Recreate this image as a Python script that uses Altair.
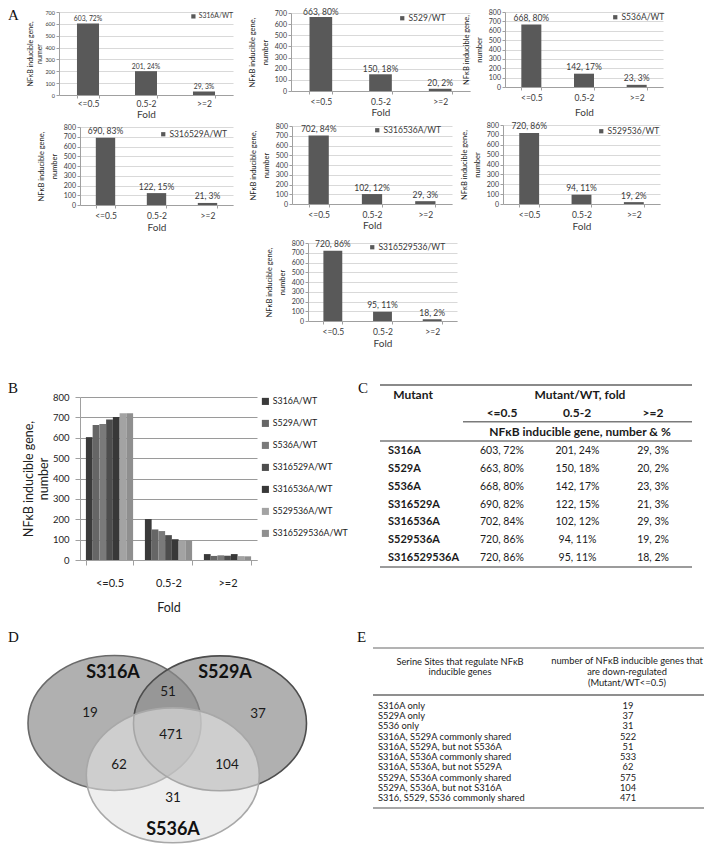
import altair as alt
import pandas as pd

# ------------------------------------------------------------------ data
FOLDS = ["<=0.5", "0.5-2", ">=2"]
MUTANTS = ["S316A", "S529A", "S536A", "S316529A", "S316536A", "S529536A", "S316529536A"]
N_LE05 = [603, 663, 668, 690, 702, 720, 720]
N_MID = [201, 150, 142, 122, 102, 94, 95]
N_GE2 = [29, 20, 23, 21, 29, 19, 18]
P_LE05 = [72, 80, 80, 82, 84, 86, 86]
P_MID = [24, 18, 17, 15, 12, 11, 11]
P_GE2 = [3, 2, 3, 3, 3, 2, 2]
P_LE05_A = [72, 80, 80, 83, 84, 86, 86]          # as printed in panel A
A_SERIES = ["S316A/WT", "S529/WT", "S536A/WT", "S316529A/WT",
            "S316536A/WT", "S529536/WT", "S316529536/WT"]
A_YMAX = [700, 700, 800, 800, 800, 800, 800]
A_YTITLE2 = ["numer", "number", "number", "number", "number", "number", "number"]
B_SERIES = ["S316A/WT", "S529A/WT", "S536A/WT", "S316529A/WT",
            "S316536A/WT", "S529536A/WT", "S316529536A/WT"]
VENN_SETS = ["S316A", "S529A", "S536A"]
VENN_REGIONS = ["S316A only", "S529A only", "S536A only", "S316A+S529A",
                "S316A+S536A", "S529A+S536A", "all three"]
VENN_COUNTS = [19, 37, 31, 51, 62, 104, 471]
E_SITES = ["S316A only", "S529A only", "S536 only",
           "S316A, S529A commonly shared", "S316A, S529A, but not S536A",
           "S316A, S536A commonly shared", "S316A, S536A, but not S529A",
           "S529A, S536A commonly shared", "S529A, S536A, but not S316A",
           "S316, S529, S536 commonly shared"]
E_COUNTS = [19, 37, 31, 522, 51, 533, 62, 575, 104, 471]

# ------------------------------------------------------------------ layout / style
W, H = 697, 839
def px(v): return v - 8
def py(v): return v - 8

FONT = "Lato"
SERIF = "Liberation Serif"
TXT = "#3a3a3a"
DARK = "#1a1a1a"
AX_GRAY = "#a0a0a0"
A_BAR = "#595959"
B_COLORS = ["#3a3a3a", "#666666", "#7a7a7a", "#4d4d4d", "#383838", "#a3a3a3", "#8f8f8f"]

A_BOX = [(59, 233, 12, 95), (291, 470, 13, 91), (505, 663, 12, 87),
         (80, 233, 127, 205), (292, 452, 126, 204), (503, 660, 125, 204),
         (308, 457, 243, 321)]
A_LEGEND = [(190, 13), (398, 14), (611, 13), (159, 130), (373, 126), (597, 127), (368, 243)]
A_XTITLE_PAD = [1, 1.5, 5.5, 2.8, 2.2, 3.2, 2.4]
A_LABEL_DY = [-1.5, -0.5, -1.5, -1.5, -1.5, -1.5, -1.5]

B_BOX = (80, 257, 397, 560)

ELLIPSE = "M -1 0 A 1 0.78 0 1 1 1 0 A 1 0.78 0 1 1 -1 0 Z"
VENN_SIZE = 173 ** 2
VENN_CENTER = {"S316A": (114.5, 723), "S529A": (220, 723.3), "S536A": (172.8, 775.3)}
VENN_STYLE = {
    "S316A": dict(fill="#8a8a8a", fillOpacity=0.68, stroke="#6a6a6a"),
    "S529A": dict(fill="#8a8a8a", fillOpacity=0.68, stroke="#4d4d4d"),
    "S536A": dict(fill="#e2e2e2", fillOpacity=0.6, stroke="#a8a8a8"),
}
VENN_SET_POS = {"S316A": (113, 673), "S529A": (225, 673), "S536A": (173, 830)}
VENN_REGION_POS = {"S316A only": (90, 713), "S529A only": (258, 714), "S536A only": (173, 798),
                   "S316A+S529A": (168, 692), "S316A+S536A": (119, 765),
                   "S529A+S536A": (227, 765), "all three": (171, 735)}

PANEL_LABELS = [("A", 8, 8), ("B", 8, 381), ("C", 358, 381), ("D", 8, 630), ("E", 357, 630)]


# ------------------------------------------------------------------ panel A
def panel_a(i):
    l, r, t, b = A_BOX[i]
    lx, ly = A_LEGEND[i]
    first = i == 0
    ymax = A_YMAX[i]
    df = pd.DataFrame({
        "fold": FOLDS,
        "count": [N_LE05[i], N_MID[i], N_GE2[i]],
        "pct": [P_LE05_A[i], P_MID[i], P_GE2[i]],
        "series": [A_SERIES[i]] * 3,
    })
    df["label"] = df["count"].astype(str) + ", " + df["pct"].astype(str) + "%"
    xs = alt.Scale(domain=FOLDS, range=[px(l), px(r)], paddingInner=0.62, paddingOuter=0.31)
    ys = alt.Scale(domain=[0, ymax], range=[py(b), py(t)], nice=False)
    x_axis = alt.Axis(orient="bottom", offset=py(b) - H, title="Fold", labelAngle=0,
                      tickBand="extent", tickSize=3, tickColor=AX_GRAY, domainColor=AX_GRAY,
                      labelFont=FONT, labelFontSize=8.5, labelColor=TXT,
                      labelPadding=1.8 if first else 3.2,
                      titleFont=FONT, titleFontSize=10, titleFontWeight="normal",
                      titleColor=TXT, titlePadding=A_XTITLE_PAD[i], minExtent=0)
    y_axis = alt.Axis(orient="left", offset=-px(l), values=list(range(0, ymax + 1, 100)),
                      grid=True, gridColor="#cfcfcf", gridWidth=0.8,
                      tickSize=3, tickColor=AX_GRAY, domainColor=AX_GRAY,
                      labelFont=FONT, labelFontSize=5.5 if first else 7, labelColor=TXT,
                      labelPadding=1.5,
                      title=["NFκB inducible gene,", A_YTITLE2[i]],
                      titleFont=FONT, titleFontSize=7 if first else 7.5,
                      titleFontWeight="normal", titleColor=DARK,
                      titleLineHeight=9 if first else 13,
                      titlePadding=2.5 if first else 5, minExtent=0)
    bars = alt.Chart(df).mark_bar().encode(
        x=alt.X("fold:N", sort=FOLDS, scale=xs, axis=x_axis),
        y=alt.Y("count:Q", scale=ys, axis=y_axis),
        color=alt.Color("series:N", scale=alt.Scale(domain=[A_SERIES[i]], range=[A_BAR]),
                        legend=alt.Legend(title=None, orient="none", legendX=px(lx), legendY=py(ly),
                                          symbolType="square", symbolSize=18, symbolStrokeWidth=0,
                                          labelFont=FONT, labelFontSize=6.8 if first else 8.5,
                                          labelColor=TXT, labelOffset=2, padding=0)),
    )
    labels = alt.Chart(df).mark_text(baseline="bottom", dy=A_LABEL_DY[i], font=FONT,
                                     fontSize=6.8 if first else 8.5, color=TXT).encode(
        x=alt.X("fold:N", sort=FOLDS),
        y=alt.Y("count:Q"),
        text="label:N",
    )
    return alt.layer(bars, labels)


# ------------------------------------------------------------------ panel B
def panel_b():
    l, r, t, b = B_BOX
    rows = []
    for f, arr in zip(FOLDS, [N_LE05, N_MID, N_GE2]):
        for s, v in zip(B_SERIES, arr):
            rows.append({"fold": f, "series": s, "count": v})
    df = pd.DataFrame(rows)
    x_axis = alt.Axis(orient="bottom", offset=py(b) - H, title="Fold", labelAngle=0,
                      tickBand="extent", tickSize=5, tickColor=AX_GRAY, domainColor=AX_GRAY,
                      labelFont=FONT, labelFontSize=11, labelColor="#222222", labelPadding=12.8,
                      titleFont=FONT, titleFontSize=12.5, titleFontWeight="normal",
                      titleColor="#222222", titlePadding=12.7, minExtent=0)
    y_axis = alt.Axis(orient="left", offset=-px(l), values=list(range(0, 801, 100)),
                      grid=True, gridColor="#9a9a9a", gridWidth=1,
                      tickSize=5, tickColor=AX_GRAY, domainColor=AX_GRAY,
                      labelFont=FONT, labelFontSize=9.5, labelColor="#222222", labelPadding=6,
                      title=["NFκB inducible gene,", "number"],
                      titleFont=FONT, titleFontSize=12.5, titleFontWeight="normal",
                      titleColor="#222222", titleLineHeight=15, titlePadding=2, minExtent=0)
    return alt.Chart(df).mark_bar().encode(
        x=alt.X("fold:N", sort=FOLDS,
                scale=alt.Scale(domain=FOLDS, range=[px(l), px(r)], paddingInner=0.2, paddingOuter=0.1),
                axis=x_axis),
        xOffset=alt.XOffset("series:N", sort=B_SERIES,
                            scale=alt.Scale(domain=B_SERIES, paddingInner=0, paddingOuter=0)),
        y=alt.Y("count:Q", scale=alt.Scale(domain=[0, 800], range=[py(b), py(t)], nice=False),
                axis=y_axis),
        color=alt.Color("series:N", sort=B_SERIES,
                        scale=alt.Scale(domain=B_SERIES, range=B_COLORS),
                        legend=alt.Legend(title=None, orient="none", legendX=px(261), legendY=py(397),
                                          symbolType="square", symbolSize=50, symbolStrokeWidth=0,
                                          labelFont=FONT, labelFontSize=8.8, labelColor="#222222",
                                          labelOffset=3, rowPadding=12, padding=0)),
    )


# ------------------------------------------------------------------ helpers for tables
def text_layer(items, size, weight="normal", align="center", color=DARK, font=FONT, baseline="middle"):
    df = pd.DataFrame({"t": [it[0] for it in items],
                       "x": [px(it[1]) for it in items],
                       "y": [py(it[2]) for it in items]})
    return alt.Chart(df).mark_text(font=font, fontSize=size, fontWeight=weight, align=align,
                                   baseline=baseline, color=color).encode(
        x=alt.X("x:Q", scale=None), y=alt.Y("y:Q", scale=None), text="t:N")


def rule_layer(lines):
    layers = []
    for x0, x1, y, w, c in lines:
        df = pd.DataFrame({"x": [px(x0)], "x2": [px(x1)], "y": [py(y)]})
        layers.append(alt.Chart(df).mark_rule(color=c, strokeWidth=w).encode(
            x=alt.X("x:Q", scale=None), x2="x2:Q", y=alt.Y("y:Q", scale=None)))
    return layers


# ------------------------------------------------------------------ panel C (table)
def panel_c():
    rows = []
    for k, m in enumerate(MUTANTS):
        for f, n, p in zip(FOLDS, [N_LE05[k], N_MID[k], N_GE2[k]], [P_LE05[k], P_MID[k], P_GE2[k]]):
            rows.append({"mutant": m, "fold": f, "text": f"{n}, {p}%"})
    df = pd.DataFrame(rows)
    ysc = alt.Scale(type="point", domain=MUTANTS, range=[py(451), py(558)], padding=0)
    cells = alt.Chart(df).mark_text(font=FONT, fontSize=10.5, color=DARK).encode(
        x=alt.X("fold:N", sort=FOLDS,
                scale=alt.Scale(type="point", domain=FOLDS, range=[px(502), px(653)], padding=0),
                axis=None),
        y=alt.Y("mutant:N", sort=MUTANTS, scale=ysc, axis=None),
        text="text:N")
    names = alt.Chart(pd.DataFrame({"mutant": MUTANTS})).mark_text(
        font=FONT, fontSize=11, fontWeight="bold", align="left", color=DARK).encode(
        x=alt.value(px(388)),
        y=alt.Y("mutant:N", sort=MUTANTS, axis=None),
        text="mutant:N")
    heads = text_layer([("Mutant", 413, 395), ("Mutant/WT, fold", 580, 395),
                        ("<=0.5", 502, 413), ("0.5-2", 577, 413), (">=2", 653, 413),
                        ("NFκB inducible gene, number & %", 580, 432)], 12, weight="bold")
    lines = rule_layer([(380, 692, 385, 2, "#8a8a8a"), (463, 692, 421.7, 1.5, "#7a7a7a"),
                        (380, 692, 441, 1.5, "#7a7a7a"), (380, 692, 567, 1.5, "#7a7a7a")])
    return [alt.layer(cells, names), heads] + lines


# ------------------------------------------------------------------ panel D (Venn)
def panel_d():
    layers = []
    for s in VENN_SETS:
        cx, cy = VENN_CENTER[s]
        df = pd.DataFrame({"set": [s], "cx": [px(cx)], "cy": [py(cy)]})
        layers.append(alt.Chart(df).mark_point(shape=ELLIPSE, size=VENN_SIZE, filled=True,
                                               opacity=1, strokeWidth=1.6, strokeOpacity=1,
                                               **VENN_STYLE[s]).encode(
            x=alt.X("cx:Q", scale=None), y=alt.Y("cy:Q", scale=None)))
    reg = pd.DataFrame({"region": VENN_REGIONS, "count": VENN_COUNTS})
    reg["x"] = [px(VENN_REGION_POS[r][0]) for r in VENN_REGIONS]
    reg["y"] = [py(VENN_REGION_POS[r][1]) for r in VENN_REGIONS]
    layers.append(alt.Chart(reg).mark_text(font=FONT, fontSize=13.5, color=DARK).encode(
        x=alt.X("x:Q", scale=None), y=alt.Y("y:Q", scale=None), text="count:Q"))
    sets = pd.DataFrame({"set": VENN_SETS})
    sets["x"] = [px(VENN_SET_POS[s][0]) for s in VENN_SETS]
    sets["y"] = [py(VENN_SET_POS[s][1]) for s in VENN_SETS]
    layers.append(alt.Chart(sets).mark_text(font=FONT, fontSize=18, fontWeight="bold",
                                            color="#111111").encode(
        x=alt.X("x:Q", scale=None), y=alt.Y("y:Q", scale=None), text="set:N"))
    return layers


# ------------------------------------------------------------------ panel E (table)
def panel_e():
    df = pd.DataFrame({"site": E_SITES, "count": E_COUNTS})
    ysc = alt.Scale(type="point", domain=E_SITES, range=[py(706), py(798)], padding=0)
    names = alt.Chart(df).mark_text(font=FONT, fontSize=9.3, align="left", color=DARK).encode(
        x=alt.value(px(378)), y=alt.Y("site:N", sort=E_SITES, scale=ysc, axis=None), text="site:N")
    counts = alt.Chart(df).mark_text(font=FONT, fontSize=9.3, align="center", color=DARK).encode(
        x=alt.value(px(628)), y=alt.Y("site:N", sort=E_SITES, axis=None), text="count:Q")
    heads = text_layer([("Serine Sites that regulate NFκB", 460, 661.7),
                        ("inducible genes", 460, 671.7),
                        ("number of NFκB inducible genes that", 627, 660.5),
                        ("are down-regulated", 627, 671.7),
                        ("(Mutant/WT<=0.5)", 627, 683)], 9.3)
    lines = rule_layer([(373, 704, 648, 1.5, "#9a9a9a"), (373, 704, 695, 1.5, "#6a6a6a"),
                        (373, 704, 808, 1.5, "#8a8a8a")])
    return [alt.layer(names, counts), heads] + lines


# ------------------------------------------------------------------ assemble
layers = [panel_a(i) for i in range(7)]
layers.append(panel_b())
layers += panel_c()
layers += panel_d()
layers += panel_e()
layers.append(text_layer([(t, x, y) for t, x, y in PANEL_LABELS], 15, align="left",
                         color="#111111", font=SERIF, baseline="top"))

chart = alt.layer(*layers).resolve_scale(
    x="independent", y="independent", color="independent"
).properties(
    width=W, height=H, padding=0, autosize=alt.AutoSizeParams(type="none")
).configure_view(stroke=None)

chart.save("out.html", embed_options={"renderer": "svg", "actions": False})
